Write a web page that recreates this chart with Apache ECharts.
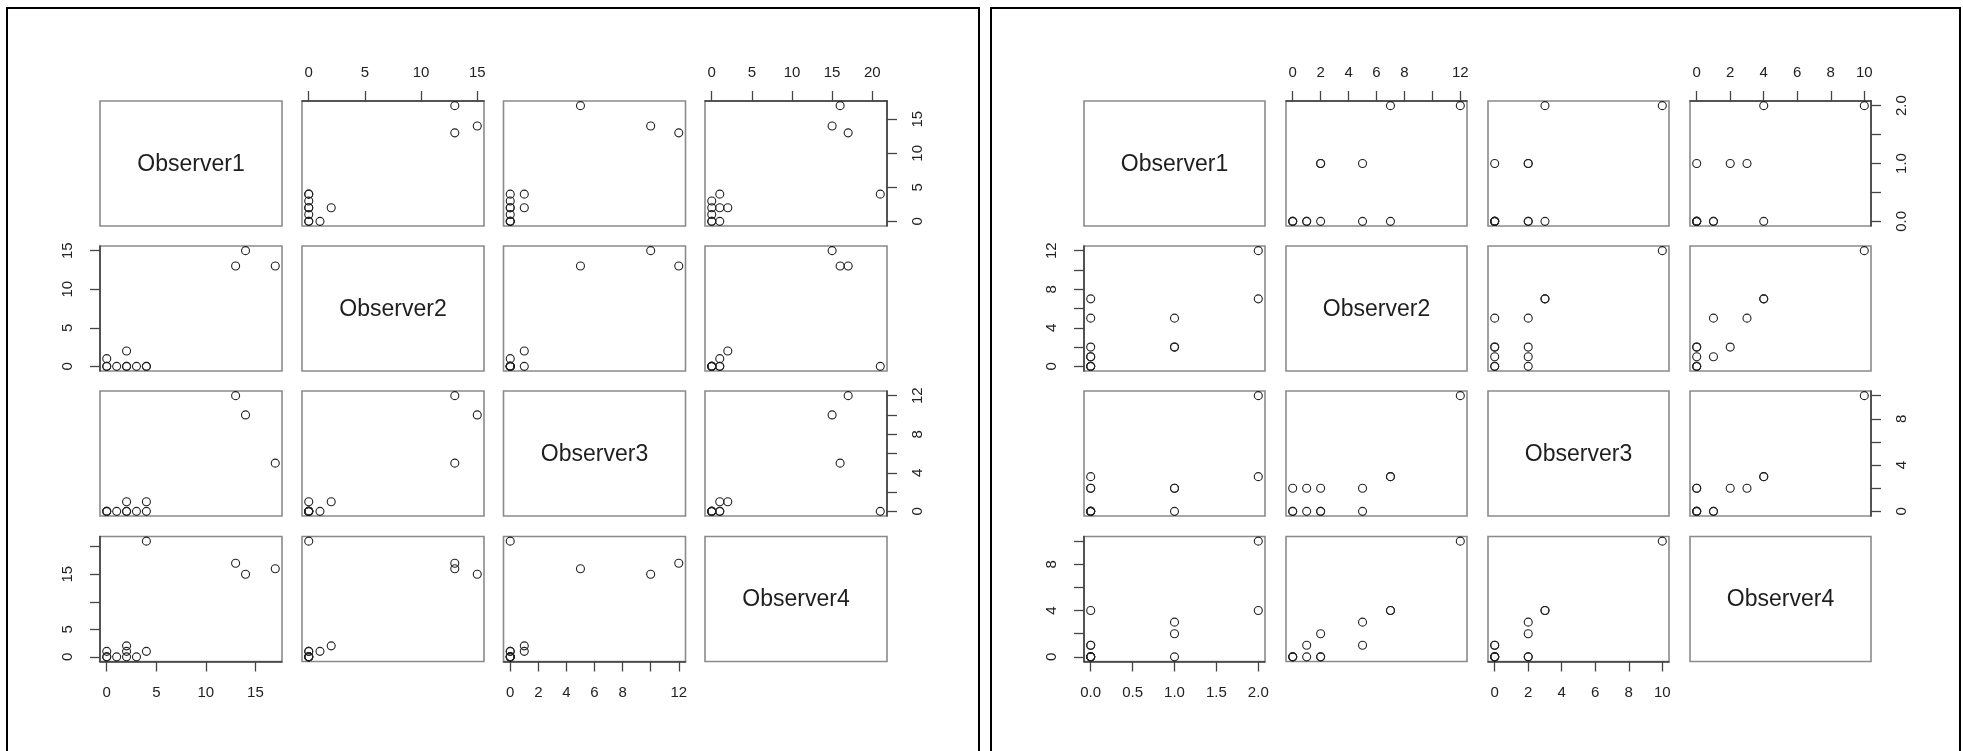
<!DOCTYPE html>
<html><head><meta charset="utf-8">
<script src="https://cdn.jsdelivr.net/npm/echarts@6/dist/echarts.min.js"></script>
<style>html,body{margin:0;padding:0;background:#fff}#c{width:1963px;height:751px}</style>
</head><body><div id="c"></div>
<script>
const variables = ['Observer1', 'Observer2', 'Observer3', 'Observer4'];

// Left scatterplot matrix: one entry per observation
const leftObserver1 = [17, 14, 13, 4, 4, 2, 2, 2, 3, 1, 0, 0, 0];
const leftObserver2 = [13, 15, 13, 0, 0, 2, 0, 0, 0, 0, 1, 0, 0];
const leftObserver3 = [5, 10, 12, 0, 1, 1, 0, 0, 0, 0, 0, 0, 0];
const leftObserver4 = [16, 15, 17, 21, 1, 2, 1, 0, 0, 0, 1, 0, 0];

// Right scatterplot matrix
const rightObserver1 = [2, 2, 0, 1, 1, 1, 0, 0, 0, 0, 0, 0, 0];
const rightObserver2 = [12, 7, 7, 5, 2, 2, 5, 2, 1, 0, 1, 0, 0];
const rightObserver3 = [10, 3, 3, 2, 2, 0, 0, 0, 2, 2, 0, 0, 0];
const rightObserver4 = [10, 4, 4, 3, 2, 0, 1, 0, 0, 0, 1, 0, 0];

// Tick positions
const leftTicks1 = [0, 5, 10, 15];
const leftTicks2 = [0, 5, 10, 15];
const leftTicks3 = [0, 2, 4, 6, 8, 10, 12];
const leftTicks4 = [0, 5, 10, 15, 20];
const rightTicks1 = [0, 0.5, 1, 1.5, 2];
const rightTicks2 = [0, 2, 4, 6, 8, 10, 12];
const rightTicks3 = [0, 2, 4, 6, 8, 10];
const rightTicks4 = [0, 2, 4, 6, 8, 10];

// Tick labels shown on horizontal (top/bottom) axes
const leftHLabels1 = [0, 5, 10, 15];
const leftHLabels2 = [0, 5, 10, 15];
const leftHLabels3 = [0, 2, 4, 6, 8, 12];
const leftHLabels4 = [0, 5, 10, 15, 20];
const rightHLabels1 = [0, 0.5, 1, 1.5, 2];
const rightHLabels2 = [0, 2, 4, 6, 8, 12];
const rightHLabels3 = [0, 2, 4, 6, 8, 10];
const rightHLabels4 = [0, 2, 4, 6, 8, 10];

// Tick labels shown on vertical (left/right) axes
const leftVLabels1 = [0, 5, 10, 15];
const leftVLabels2 = [0, 5, 10, 15];
const leftVLabels3 = [0, 4, 8, 12];
const leftVLabels4 = [0, 5, 15];
const rightVLabels1 = [0, 1, 2];
const rightVLabels2 = [0, 4, 8, 12];
const rightVLabels3 = [0, 4, 8];
const rightVLabels4 = [0, 4, 8];

const FONT = 'Liberation Sans, Arial, Helvetica, sans-serif';
const ROW_TOPS = [101, 246, 391, 536.5];
const CELL_H = 125;

const grids = [], xAxes = [], yAxes = [], series = [], graphics = [];

function fmtInt(v) { return String(Math.round(v)); }
function fmtOne(v) { return v.toFixed(1); }

function addPanel(cols, ticks, hLabels, vLabels, fmts, colLefts, cellW) {
  for (let r = 0; r < 4; r++) {
    for (let c = 0; c < 4; c++) {
      const g = grids.length;
      const left = colLefts[c], top = ROW_TOPS[r];
      grids.push({
        left: left, top: top, width: cellW, height: CELL_H,
        show: true, borderColor: '#8a8a8a', borderWidth: 1.6,
        backgroundColor: 'rgba(0,0,0,0)', containLabel: false, outerBoundsMode: 'none'
      });
      const rng = (arr) => {
        const lo = Math.min(...arr), hi = Math.max(...arr);
        const pad = 0.04 * (hi - lo);
        return [lo - pad, hi + pad];
      };
      const xr = rng(cols[c]), yr = rng(cols[r]);
      const hasTop = (r === 0 && c % 2 === 1);
      const hasBottom = (r === 3 && c % 2 === 0);
      const hasLeft = (c === 0 && r % 2 === 1);
      const hasRight = (c === 3 && r % 2 === 0);
      const hasX = hasTop || hasBottom, hasY = hasLeft || hasRight;
      xAxes.push({
        gridIndex: g, type: 'value', min: xr[0], max: xr[1],
        position: hasTop ? 'top' : 'bottom',
        axisLine: { show: hasX, onZero: false, lineStyle: { color: '#3a3a3a', width: 1.5 } },
        axisTick: { show: hasX, length: 10, customValues: ticks[c], lineStyle: { color: '#444', width: 1.3 } },
        axisLabel: { show: hasX, customValues: hLabels[c], margin: hasTop ? 21 : 24, fontSize: 15,
          color: '#222', fontFamily: FONT, formatter: fmts[c] },
        splitLine: { show: false }
      });
      yAxes.push({
        gridIndex: g, type: 'value', min: yr[0], max: yr[1],
        position: hasRight ? 'right' : 'left',
        axisLine: { show: hasY, onZero: false, lineStyle: { color: '#3a3a3a', width: 1.5 } },
        axisTick: { show: hasY, length: 10, customValues: ticks[r], lineStyle: { color: '#444', width: 1.3 } },
        axisLabel: { show: hasY, customValues: vLabels[r], rotate: 90, margin: hasRight ? 23 : 25, fontSize: 15,
          color: '#222', fontFamily: FONT, formatter: fmts[r] },
        splitLine: { show: false }
      });
      if (r === c) {
        graphics.push({
          type: 'text', x: left + cellW / 2, y: top + CELL_H / 2 + 1,
          style: { text: variables[r], fontSize: 23, fill: '#1e1e1e', fontFamily: FONT,
            align: 'center', verticalAlign: 'middle' }
        });
      } else {
        series.push({
          type: 'scatter', xAxisIndex: g, yAxisIndex: g,
          data: cols[c].map((v, i) => [v, cols[r][i]]),
          symbol: 'circle', symbolSize: 8,
          itemStyle: { color: 'rgba(0,0,0,0)', borderColor: '#222', borderWidth: 1.1, opacity: 1 },
          silent: true, emphasis: { disabled: true }
        });
      }
    }
  }
}

addPanel(
  [leftObserver1, leftObserver2, leftObserver3, leftObserver4],
  [leftTicks1, leftTicks2, leftTicks3, leftTicks4],
  [leftHLabels1, leftHLabels2, leftHLabels3, leftHLabels4],
  [leftVLabels1, leftVLabels2, leftVLabels3, leftVLabels4],
  [fmtInt, fmtInt, fmtInt, fmtInt],
  [100, 302, 503.5, 705], 182
);
addPanel(
  [rightObserver1, rightObserver2, rightObserver3, rightObserver4],
  [rightTicks1, rightTicks2, rightTicks3, rightTicks4],
  [rightHLabels1, rightHLabels2, rightHLabels3, rightHLabels4],
  [rightVLabels1, rightVLabels2, rightVLabels3, rightVLabels4],
  [fmtOne, fmtInt, fmtInt, fmtInt],
  [1084, 1286, 1488, 1690], 181
);

// outer frames
graphics.push({ type: 'rect', shape: { x: 7, y: 8, width: 972, height: 800 },
  style: { fill: 'none', stroke: '#000', lineWidth: 2 }, silent: true });
graphics.push({ type: 'rect', shape: { x: 991, y: 8, width: 969, height: 800 },
  style: { fill: 'none', stroke: '#000', lineWidth: 2 }, silent: true });

const chart = echarts.init(document.getElementById('c'), null, { renderer: 'canvas' });
chart.setOption({
  animation: false,
  backgroundColor: '#fff',
  grid: grids, xAxis: xAxes, yAxis: yAxes, series: series,
  graphic: graphics
});
</script></body></html>
